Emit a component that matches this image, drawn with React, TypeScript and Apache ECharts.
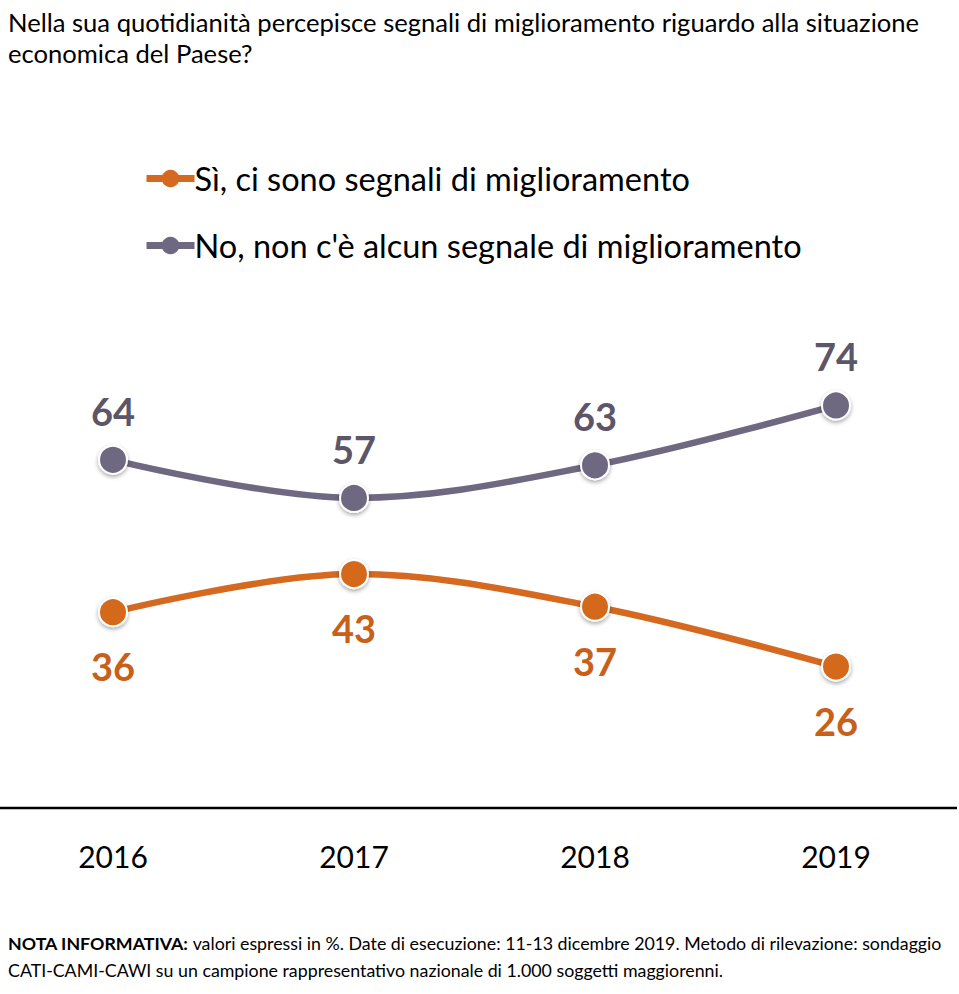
import React, { useEffect, useRef } from "react";
import * as echarts from "echarts";

const years = ["2016", "2017", "2018", "2019"];
const siValues = [36, 43, 37, 26];
const noValues = [64, 57, 63, 74];
const seriesNames = [
  "Sì, ci sono segnali di miglioramento",
  "No, non c'è alcun segnale di miglioramento",
];
const titleLines = [
  "Nella sua quotidianità percepisce segnali di miglioramento riguardo alla situazione",
  "economica del Paese?",
];
const noteBold = "NOTA INFORMATIVA:";
const noteLine1 = " valori espressi in %. Date di esecuzione: 11-13 dicembre 2019. Metodo di rilevazione: sondaggio";
const noteLine2 = "CATI-CAMI-CAWI su un campione rappresentativo nazionale di 1.000 soggetti maggiorenni.";

const FONT = "Lato";
const ORANGE = "#D4691F";
const GRAY = "#6E6880";

export default function App() {
  const ref = useRef<HTMLDivElement>(null);
  useEffect(() => {
    if (!ref.current) return;
    const chart = echarts.init(ref.current, undefined, { renderer: "svg" });
    const symbolStyle = {
      borderColor: "#fff",
      borderWidth: 2,
      shadowBlur: 4,
      shadowColor: "rgba(0,0,0,0.35)",
      shadowOffsetY: 2,
    };
    chart.setOption({
      animation: false,
      textStyle: { fontFamily: FONT },
      grid: { left: 113, right: 123, top: 264, bottom: 186 },
      legend: {
        orient: "vertical",
        left: 138,
        top: 157,
        itemGap: 34,
        itemWidth: 48,
        itemHeight: 22,
        lineStyle: { width: 7 },
        itemStyle: { borderWidth: 0 },
        textStyle: { fontSize: 32.5, color: "#000", fontFamily: FONT, padding: [0, 0, 0, -5] },
        data: [seriesNames[0], seriesNames[1]],
      },
      xAxis: {
        type: "category",
        data: years,
        boundaryGap: false,
        axisLine: { show: false },
        axisTick: { show: false },
        axisLabel: { fontSize: 30, color: "#000", margin: 33, fontFamily: FONT },
      },
      yAxis: { type: "value", min: 0, max: 100, show: false, splitLine: { show: false } },
      series: [
        {
          name: seriesNames[0],
          type: "line",
          data: siValues,
          smooth: 0.35,
          symbol: "circle",
          symbolSize: 28,
          color: ORANGE,
          lineStyle: { width: 6.5, color: ORANGE },
          itemStyle: { color: ORANGE, ...symbolStyle },
          label: {
            show: true,
            position: "bottom",
            distance: 20,
            fontSize: 38,
            fontWeight: "bold",
            color: "#C8601A",
            fontFamily: FONT,
          },
        },
        {
          name: seriesNames[1],
          type: "line",
          data: noValues,
          smooth: 0.35,
          symbol: "circle",
          symbolSize: 28,
          color: GRAY,
          lineStyle: { width: 6.5, color: GRAY },
          itemStyle: { color: GRAY, ...symbolStyle },
          label: {
            show: true,
            position: "top",
            distance: 15,
            fontSize: 38,
            fontWeight: "bold",
            color: "#5C5668",
            fontFamily: FONT,
          },
        },
      ],
      graphic: [
        {
          type: "text",
          left: 8,
          top: 6,
          style: {
            text: titleLines.join("\n"),
            fontSize: 25.6,
            lineHeight: 31,
            fill: "#000",
            fontFamily: FONT,
          },
        },
        {
          type: "line",
          shape: { x1: 0, y1: 808, x2: 957, y2: 808 },
          style: { stroke: "#000", lineWidth: 2.5 },
        },
        {
          type: "text",
          left: 8,
          top: 929,
          style: {
            text: "{b|" + noteBold + "}" + noteLine1 + "\n" + noteLine2,
            fontSize: 17.8,
            lineHeight: 27,
            fill: "#000",
            fontFamily: FONT,
            rich: {
              b: { fontWeight: "bold", fontSize: 17.8, fontFamily: FONT, fill: "#000" },
            },
          },
        },
      ],
    });
    return () => chart.dispose();
  }, []);
  return (
    <div
      ref={ref}
      style={{ position: "absolute", left: 0, top: 0, width: 959, height: 994 }}
    />
  );
}
